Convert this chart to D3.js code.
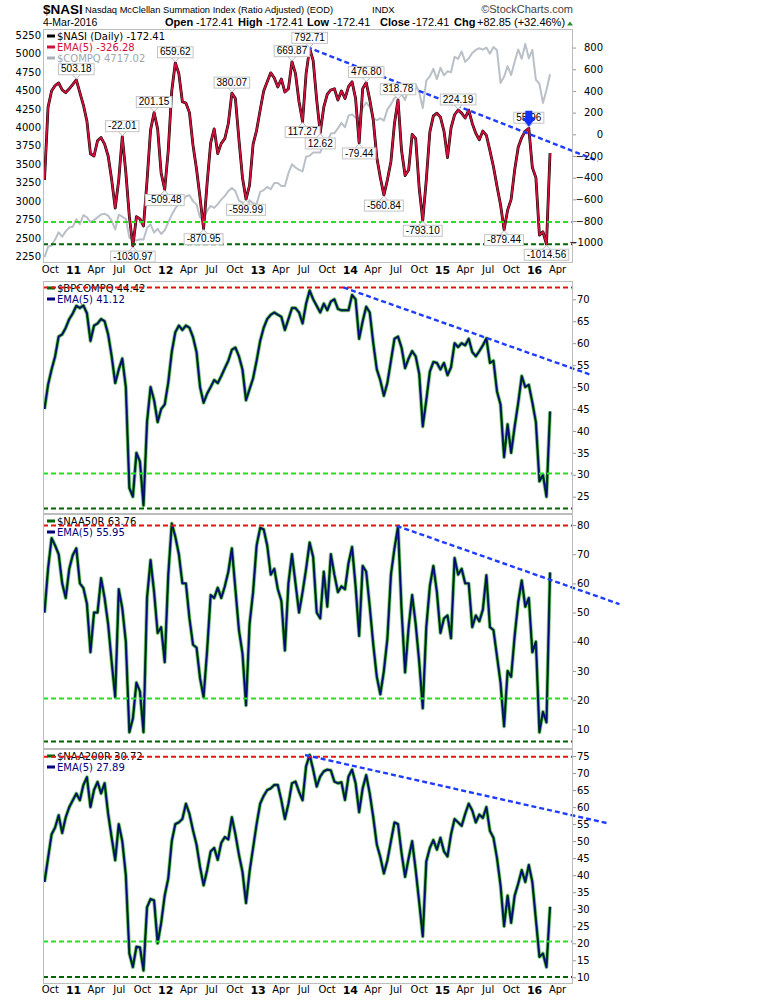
<!DOCTYPE html>
<html>
<head>
<meta charset="utf-8">
<script src="https://cdn.jsdelivr.net/npm/d3@7"></script>
<style>
  body { margin: 0; background: #fff; }
  svg { display: block; }
</style>
</head>
<body>
<div id="chart"></div>
<script>
// $NASI summation index with three breadth panels
// one value every other Friday, 10-Sep-2010 .. 4-Mar-2016

var startDay = '2010-09-10';
var stepDays = 14;

var nasi = [
  -420, 250, 400, 450, 474, 409, 385, 420, 460, 503.18,
  385, 270, 120, -180, -200, -60, -30, -90, -200, -420,
  -680, -420, -22.01, -350, -760, -1030.97, -760, -780, -846, -430,
  40, 201.15, 50, -360, -509.48, -150, 400, 659.62, 560, 300,
  288, 200, -100, -320, -586, -870.95, -450, -80, 50, -177,
  -84, -40, 100, 380.07, 330, -50, -400, -599.99, -470, -93,
  37, 223, 400, 484, 567, 520, 437, 510, 390, 420,
  669.87, 560, 300, 117.27, 560, 792.71, 680, 316, 12.62, 250,
  370, 409, 420, 316, 400, 330, 440, 484, 330, -79.44,
  420, 476.80, 320, 130, -214, -400, -560.84, -420, -250, 100,
  318.78, -150, -380, -330, 0, -40, -500, -793.10, -420, 20,
  170, 195, 158, 30, -214, 60, 180, 224.19, 195, 150,
  223, 100, 10, -50, 30, -10, -150, -300, -480, -650,
  -879.44, -700, -600, -330, -120, -30, 30, 55.96, -307, -400,
  -930, -900, -1014.56, -172.41
];

var compq = [
  2242, 2381, 2402, 2479, 2578, 2518, 2591, 2642, 2653, 2755,
  2687, 2809, 2781, 2715, 2743, 2780, 2820, 2828, 2803, 2732,
  2616, 2816, 2789, 2756, 2507, 2480, 2467, 2483, 2479, 2637,
  2686, 2573, 2626, 2555, 2605, 2710, 2816, 2903, 2963, 2988,
  3067, 3080, 3000, 2956, 2778, 2747, 2872, 2935, 2908, 2958,
  3020, 3069, 3136, 3179, 3136, 3005, 2982, 2853, 3010, 2971,
  2960, 3125, 3150, 3193, 3161, 3244, 3245, 3204, 3206, 3378,
  3499, 3456, 3423, 3403, 3600, 3613, 3660, 3658, 3660, 3774,
  3808, 3915, 3922, 3985, 4060, 4000, 4157, 4175, 4128, 4126,
  4263, 4336, 4276, 4127, 4095, 4123, 4090, 4243, 4310, 4398,
  4415, 4449, 4370, 4538, 4583, 4579, 4475, 4258, 4631, 4688,
  4792, 4653, 4806, 4704, 4758, 4745, 4955, 4927, 5026, 4886,
  4932, 5005, 5048, 5070, 5051, 5080, 4997, 5088, 5043, 4600,
  4683, 4828, 4707, 4886, 5054, 4927, 5127, 4934, 5048, 4643,
  4591, 4330, 4504, 4717.02
];

var bpcompq = [
  45, 50.5, 54, 57, 61.5, 62, 63.5, 65.5, 66.8, 68.5,
  68, 68.6, 66.8, 60.5, 64, 64.5, 65.5, 65, 62, 57,
  50.9, 54, 56.5, 50, 27, 25, 35, 33, 23, 42,
  50, 47, 42, 45, 46, 51, 58, 62.5, 64, 63,
  64, 63.5, 61.4, 58, 50, 46.4, 48.5, 50, 51.6, 50.9,
  52.5, 54.3, 56, 58.5, 59, 57, 54, 47, 49.5, 52,
  56, 60.5, 63.5, 65.5, 66.5, 67, 66.5, 66, 63, 65.5,
  68, 68, 67, 64.5, 69, 72, 70, 68.5, 67, 69,
  67.5, 69.5, 70, 67.8, 67.5, 67.5, 67.5, 71, 70, 61,
  65, 68.3, 67, 60, 54, 51.5, 48, 51, 56, 61,
  61.5, 59, 54.3, 56.5, 58.2, 57, 53, 41, 47, 53.5,
  55.7, 55.5, 54, 55.5, 52.7, 54.5, 60, 59.1, 60, 59.5,
  61, 58, 57, 58.2, 59.5, 61.1, 55.5, 56, 49, 46,
  34, 41.5, 35, 41, 46.4, 52.5, 50, 50.5, 46.5, 42,
  28.5, 30, 25, 44.42
];

var naa50r = [
  50, 65, 75.5, 73, 70, 60, 55, 65, 69.7, 72,
  60, 58.4, 53, 36.4, 50, 50, 61.8, 55, 46, 33,
  21, 58, 51.5, 40, 9, 13.7, 26, 23, 9, 55,
  68, 57, 43, 45, 33, 62.8, 80.5, 76, 70, 60,
  60, 48, 39, 38, 27.5, 21, 37, 56, 55, 58.5,
  55, 59, 64, 72, 58, 44, 36, 18.2, 46, 57,
  73, 79, 78.5, 73, 63, 65, 58, 54, 37, 60,
  70, 60, 50, 57, 65, 74, 69, 50, 48, 64,
  52, 70, 63, 57, 59, 58, 67, 72.5, 59, 42,
  66, 64, 52, 39, 28, 22, 30, 41.2, 63, 72,
  79.5, 51, 29.5, 45, 56, 46, 33, 17.2, 45, 59,
  66, 57, 43, 48, 49, 41.2, 68.7, 63, 65, 60,
  60, 45, 49, 47, 51, 62.8, 45, 44, 35, 26,
  11, 30, 28, 42, 53.6, 61, 52, 55, 36.4, 40,
  9, 16, 12.4, 63.76
];

var naa200r = [
  38, 45, 52, 54, 57.6, 52.4, 57, 60, 62, 64,
  62, 66.5, 68.8, 60, 65, 67.4, 64, 67, 58, 51,
  44.4, 55, 50, 40, 17, 13, 19, 18.8, 12, 30.6,
  33, 32.6, 20, 26, 34, 39, 50, 55, 55.5, 56.5,
  61, 58, 53.2, 49, 42.4, 37, 41.5, 47, 48, 44.5,
  49.5, 51.2, 50.5, 57, 52, 46, 41, 31.8, 41, 48,
  55, 61, 63.3, 65, 65.5, 66.5, 66.5, 62, 56.5, 61,
  67, 67.5, 64.5, 62, 72, 75.3, 71, 66, 69, 70.5,
  71, 70.8, 67.5, 67, 67.3, 62.1, 69, 71, 67, 58.5,
  65.5, 69.4, 64, 57, 49, 45.3, 40.5, 44.4, 50, 55.5,
  55, 46.5, 39.5, 45, 50, 41.5, 32, 22, 44, 48,
  50.3, 47.5, 51, 47, 45.5, 52, 56.5, 55.5, 54.5, 58,
  61, 59, 55.5, 57.8, 56.8, 60, 53, 51, 45, 37,
  25, 34, 26, 34, 37.5, 41.5, 38, 43, 38, 27,
  16, 17, 13, 30.72
];

// axis ticks
var nasiTicks = [-1000, -800, -600, -400, -200, 0, 200, 400, 600, 800];
var compqTicks = [2250, 2500, 2750, 3000, 3250, 3500, 3750, 4000, 4250, 4500, 4750, 5000, 5250];
var bpTicks = [25, 30, 35, 40, 45, 50, 55, 60, 65, 70];
var a50Ticks = [10, 20, 30, 40, 50, 60, 70, 80];
var a200Ticks = [10, 15, 20, 25, 30, 35, 40, 45, 50, 55, 60, 65, 70, 75];

// dashed horizontal levels: red / light green / dark green
var nasiLevels = [null, -810, -1015];
var bpLevels = [72.7, 30.3, 22.3];
var a50Levels = [79.8, 20.6, 5.8];
var a200Levels = [74.8, 20.5, 10.1];

// blue trend lines [date, value]
var nasiTrend = [['2013-07-16', 805], ['2016-09-10', -246]];
var bpTrend = [['2013-12-07', 72.7], ['2016-08-07', 52.9]];
var a50Trend = [['2014-07-06', 79.7], ['2016-12-04', 52.9]];
var a200Trend = [['2013-07-08', 75.3], ['2016-10-21', 55.2]];

// peak / trough call-outs on $NASI: [sample index, text, 1 above / -1 below]
var nasiLabels = [
  [9, '503.18', 1], [22, '-22.01', 1], [31, '201.15', 1], [37, '659.62', 1], [53, '380.07', 1],
  [70, '669.87', 1], [75, '792.71', 1], [91, '476.80', 1], [100, '318.78', 1], [117, '224.19', 1],
  [137, '55.96', 1],
  [25, '-1030.97', -1], [34, '-509.48', -1], [45, '-870.95', -1], [57, '-599.99', -1], [73, '117.27', -1],
  [78, '12.62', -1], [89, '-79.44', -1], [96, '-560.84', -1], [107, '-793.10', -1], [130, '-879.44', -1],
  [142, '-1014.56', -1]
];
var arrowAt = 137;

var parse = d3.timeParse('%Y-%m-%d');
var start = parse(startDay);
var dates = nasi.map(function(d, i){ return d3.timeDay.offset(start, i * stepDays); });

var W = 770, H = 1000;
var left = 43, right = 573;
var levelColors = ['#ee1111', '#22e022', '#006400'];
var sans = 'Liberation Sans, Arial, sans-serif';
var dv = 'DejaVu Sans, Verdana, sans-serif';

var svg = d3.select('#chart').append('svg')
    .attr('width', W)
    .attr('height', H);

var x = d3.scaleTime()
    .domain([parse('2010-09-04'), parse('2016-06-03')])
    .range([left, right]);

// ---- header
var head = svg.append('g').attr('font-family', sans).attr('fill', '#000');
head.append('text').attr('x', 43).attr('y', 13.5)
    .attr('font-size', 13.5).attr('font-weight', 'bold').text('$NASI');
head.append('text').attr('x', 85).attr('y', 13)
    .attr('font-size', 9.3)
    .text('Nasdaq McClellan Summation Index (Ratio Adjusted) (EOD)');
head.append('text').attr('x', 372).attr('y', 13).attr('font-size', 9.5).text('INDX');
head.append('text').attr('x', 573).attr('y', 13).attr('font-size', 11)
    .attr('text-anchor', 'end').attr('fill', '#444').text('\u00a9StockCharts.com');
head.append('text').attr('x', 43).attr('y', 26).attr('font-size', 10.5).text('4-Mar-2016');

var quote = [[165, 'Open', 1], [196, '-172.41', 0], [238, 'High', 1], [266, '-172.41', 0],
             [307, 'Low', 1], [333, '-172.41', 0], [380, 'Close', 1], [412, '-172.41', 0],
             [454, 'Chg', 1], [477, '+82.85 (+32.46%)', 0]];
quote.forEach(function(q){
    head.append('text').attr('x', q[0]).attr('y', 26).attr('font-size', 11)
        .attr('font-weight', q[2] ? 'bold' : 'normal').text(q[1]);
});
head.append('path').attr('d', 'M567,25.5L570,21.5L573,25.5Z').attr('fill', '#2e8b2e');

// ---- helpers
function clip(id, top, bottom){
    svg.append('clipPath').attr('id', id)
        .append('rect').attr('x', left).attr('y', top)
        .attr('width', right - left).attr('height', bottom - top);
    return 'url(#' + id + ')';
}

function frame(top, bottom){
    svg.append('rect')
        .attr('x', left + 0.5).attr('y', top + 0.5)
        .attr('width', right - left - 1).attr('height', bottom - top - 1)
        .attr('fill', 'none').attr('stroke', '#bdbdbd');
}

function rightAxis(y, ticks, anchorEnd){
    var ax = svg.append('g')
        .attr('transform', 'translate(' + right + ',0)')
        .call(d3.axisRight(y).tickValues(ticks).tickSize(3).tickPadding(1).tickFormat(d3.format('d')));
    ax.attr('font-family', dv).attr('font-size', 10);
    ax.select('.domain').remove();
    ax.selectAll('line').attr('stroke', '#999');
    ax.selectAll('text').attr('fill', '#000');
    if (anchorEnd) ax.selectAll('text').attr('x', 30).attr('text-anchor', 'end');
}

function levels(g, y, vals){
    vals.forEach(function(v, k){
        if (v === null) return;
        g.append('line')
            .attr('x1', left).attr('x2', right)
            .attr('y1', y(v)).attr('y2', y(v))
            .attr('stroke', levelColors[k]).attr('stroke-width', 2)
            .attr('stroke-dasharray', '5,3');
    });
}

function trend(g, y, pts){
    g.append('line')
        .attr('x1', x(parse(pts[0][0]))).attr('y1', y(pts[0][1]))
        .attr('x2', x(parse(pts[1][0]))).attr('y2', y(pts[1][1]))
        .attr('stroke', '#1f3dff').attr('stroke-width', 2.4)
        .attr('stroke-dasharray', '5,3');
}

function legend(g, top, items){
    var lg = g.append('g').attr('font-family', dv).attr('font-size', 10);
    items.forEach(function(it, k){
        var yy = top + 10.5 + k * 11;
        lg.append('line').attr('x1', 47).attr('x2', 55)
            .attr('y1', yy - 3.5).attr('y2', yy - 3.5)
            .attr('stroke', it[1]).attr('stroke-width', 3);
        lg.append('text').attr('x', 57).attr('y', yy).attr('fill', it[2]).text(it[0]);
    });
}

function timeAxis(yPos){
    var ax = svg.append('g')
        .attr('transform', 'translate(0,' + yPos + ')')
        .call(d3.axisBottom(x).ticks(d3.timeMonth.every(3)).tickSize(0).tickPadding(0)
            .tickFormat(function(d){
                return d.getMonth() === 0 ? d3.timeFormat('%y')(d) : d3.timeFormat('%b')(d);
            }));
    ax.attr('font-family', dv).attr('font-size', 10);
    ax.select('.domain').remove();
    ax.selectAll('text').attr('fill', '#000')
        .attr('font-weight', function(d){ return d.getMonth() === 0 ? 'bold' : 'normal'; })
        .attr('font-size', function(d){ return d.getMonth() === 0 ? 11 : 10; });
}

function seriesLine(y){
    return d3.line()
        .x(function(d, i){ return x(dates[i]); })
        .y(function(d){ return y(d); });
}

// ---- panel 1: $NASI, EMA, $COMPQ
var p1 = {top: 29, bottom: 263};
var yN = d3.scaleLinear().domain([-1187.3, 971.4]).range([p1.bottom, p1.top]);
var yC = d3.scaleLinear().domain([2162, 5331]).range([p1.bottom, p1.top]);

var g1 = svg.append('g');
var c1 = clip('clip1', p1.top, p1.bottom);
var s1 = g1.append('g').attr('clip-path', c1).attr('fill', 'none')
    .attr('stroke-linejoin', 'round');

s1.append('path').datum(compq).attr('d', seriesLine(yC))
    .attr('stroke', '#b9c0c7').attr('stroke-width', 2);
s1.append('path').datum(nasi).attr('d', seriesLine(yN))
    .attr('stroke', '#000').attr('stroke-width', 2.8);
s1.append('path').datum(nasi).attr('d', seriesLine(yN))
    .attr('stroke', '#d0103a').attr('stroke-width', 1.8);

legend(g1, p1.top, [
    ['$NASI (Daily) -172.41', '#000', '#000'],
    ['EMA(5) -326.28', '#d0103a', '#d0103a'],
    ['$COMPQ 4717.02', '#a9b0b8', '#a0a7af']
]);
levels(g1, yN, nasiLevels);
frame(p1.top, p1.bottom);
trend(g1, yN, nasiTrend);

var lax = svg.append('g')
    .attr('transform', 'translate(' + left + ',0)')
    .call(d3.axisLeft(yC).tickValues(compqTicks).tickSize(0).tickPadding(2).tickFormat(d3.format('d')));
lax.attr('font-family', dv).attr('font-size', 10);
lax.select('.domain').remove();
lax.selectAll('text').attr('fill', '#000');
rightAxis(yN, nasiTicks, true);

// call-out boxes
var lab = g1.append('g').attr('font-family', sans).attr('font-size', 10);
nasiLabels.forEach(function(l){
    var cx = x(dates[l[0]]), cy = yN(nasi[l[0]]);
    var up = l[2] > 0, h = 11;
    var by = up ? cy - 5 - h : cy + 5;
    var lg = lab.append('g');
    var edge = up ? by + h : by;
    lg.append('path')
        .attr('d', 'M' + (cx - 4) + ',' + edge + 'L' + cx + ',' + (up ? cy - 1 : cy + 1) + 'L' + (cx + 4) + ',' + edge)
        .attr('fill', '#fff').attr('stroke', '#bbb');
    var box = lg.append('rect').attr('fill', '#fff').attr('stroke', '#c4c4c4');
    var t = lg.append('text').attr('x', cx).attr('y', by + 8.7)
        .attr('text-anchor', 'middle').attr('fill', '#000').text(l[1]);
    var w = t.node().getComputedTextLength() + 5;
    box.attr('x', cx - w / 2).attr('y', by).attr('width', w).attr('height', h);
});

// blue arrow over the last peak
var ax0 = x(dates[arrowAt]), ay0 = yN(nasi[arrowAt]) - 1.5;
g1.append('path')
    .attr('d', 'M' + ax0 + ',' + ay0 +
        'L' + (ax0 - 7) + ',' + (ay0 - 9) + 'L' + (ax0 - 3.5) + ',' + (ay0 - 9) +
        'L' + (ax0 - 3.5) + ',' + (ay0 - 16) + 'L' + (ax0 + 3.5) + ',' + (ay0 - 16) +
        'L' + (ax0 + 3.5) + ',' + (ay0 - 9) + 'L' + (ax0 + 7) + ',' + (ay0 - 9) + 'Z')
    .attr('fill', '#1430ff');

timeAxis(266);

// ---- panels 2-4: breadth with EMA(5)
var breadth = [
    {id: 'clip2', top: 281, bottom: 514, domain: [21.06, 74.17], data: bpcompq, ticks: bpTicks,
     levels: bpLevels, trend: bpTrend, names: ['$BPCOMPQ 44.42', 'EMA(5) 41.12']},
    {id: 'clip3', top: 514, bottom: 749, domain: [3.26, 83.77], data: naa50r, ticks: a50Ticks,
     levels: a50Levels, trend: a50Trend, names: ['$NAA50R 63.76', 'EMA(5) 55.95']},
    {id: 'clip4', top: 749, bottom: 984, domain: [8.04, 77.06], data: naa200r, ticks: a200Ticks,
     levels: a200Levels, trend: a200Trend, names: ['$NAA200R 30.72', 'EMA(5) 27.89']}
];

breadth.forEach(function(p){
    var y = d3.scaleLinear().domain(p.domain).range([p.bottom, p.top]);
    var g = svg.append('g');
    var s = g.append('g').attr('clip-path', clip(p.id, p.top, p.bottom))
        .attr('fill', 'none').attr('stroke-linejoin', 'round');
    var ln = seriesLine(y);
    s.append('path').datum(p.data).attr('d', ln)
        .attr('stroke', '#9fd09f').attr('stroke-width', 4);
    s.append('path').datum(p.data).attr('d', ln)
        .attr('stroke', '#006400').attr('stroke-width', 2.4);
    s.append('path').datum(p.data).attr('d', ln)
        .attr('stroke', '#000080').attr('stroke-width', 1.2);

    legend(g, p.top, [
        [p.names[0], '#006400', '#000'],
        [p.names[1], '#000080', '#000080']
    ]);
    levels(g, y, p.levels);
    frame(p.top, p.bottom);
    trend(g, y, p.trend);
    rightAxis(y, p.ticks, false);
});

timeAxis(986);
</script>
</body>
</html>
